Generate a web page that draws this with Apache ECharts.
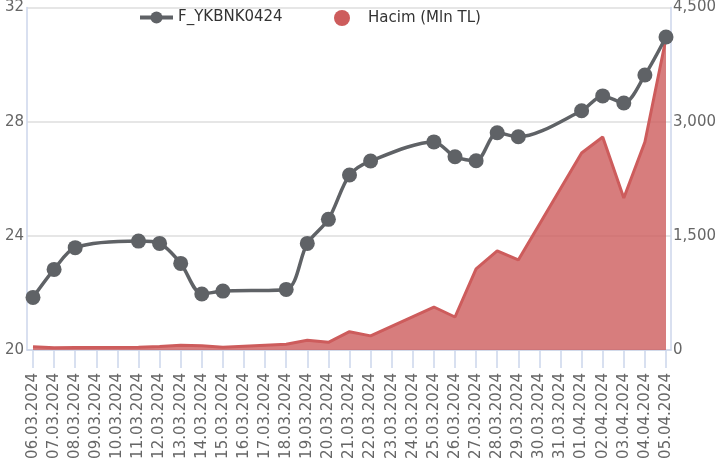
<!DOCTYPE html>
<html>
<head>
<meta charset="utf-8">
<script src="https://cdn.jsdelivr.net/npm/echarts@6/dist/echarts.min.js"></script>
<style>
html,body{margin:0;padding:0;background:#fff;}
#c{width:719px;height:472px;}
</style>
</head>
<body>
<div id="c"></div>
<script>
const dates = ['06.03.2024','07.03.2024','08.03.2024','09.03.2024','10.03.2024','11.03.2024','12.03.2024','13.03.2024','14.03.2024','15.03.2024','16.03.2024','17.03.2024','18.03.2024','19.03.2024','20.03.2024','21.03.2024','22.03.2024','23.03.2024','24.03.2024','25.03.2024','26.03.2024','27.03.2024','28.03.2024','29.03.2024','30.03.2024','31.03.2024','01.04.2024','02.04.2024','03.04.2024','04.04.2024','05.04.2024'];
const priceName = 'F_YKBNK0424';
const volumeName = 'Hacim (Mln TL)';
const price = [21.84,22.82,23.58,null,null,23.81,23.73,23.03,21.96,22.06,null,null,22.12,23.73,24.57,26.12,26.61,null,null,27.28,26.76,26.62,27.60,27.46,null,null,28.37,28.89,28.64,29.62,30.95];
const volume = [43,30,32,null,null,35,45,62,57,35,null,null,75,127,101,240,185,null,null,564,433,1063,1300,1181,null,null,2585,2795,1994,2729,4090];
const leftTicks = {min:20, max:32, interval:4};
const rightTicks = {min:0, max:4500, interval:1500};

const axisColor = '#ccd6eb';
const gridColor = '#e6e6e6';
const labelColor = '#666666';
const font = 'DejaVu Sans';

const chart = echarts.init(document.getElementById('c'), null, {renderer:'canvas'});
chart.setOption({
  animation: false,
  textStyle: {fontFamily: font},
  legend: [
    {data:[priceName], left:133, top:5, itemWidth:33, itemHeight:15, itemGap:0,
     lineStyle:{width:4},
     textStyle:{fontSize:15, color:'#333', fontFamily:font, padding:[0,0,0,0]}},
    {data:[{name:volumeName, icon:'circle'}], left:329, top:5, itemWidth:16, itemHeight:16,
     textStyle:{fontSize:15, color:'#333', fontFamily:font, padding:[0,0,0,13]}}
  ],
  grid: [
    {left:27, right:46, top:7, bottom:122},
    {left:33, right:53, top:7, bottom:122}
  ],
  xAxis: [
    {gridIndex:0, type:'category', data:dates, boundaryGap:false,
     axisLine:{show:true, lineStyle:{color:axisColor, width:1.5}},
     axisTick:{show:false}, axisLabel:{show:false}, splitLine:{show:false}},
    {gridIndex:1, type:'category', data:dates, boundaryGap:false,
     axisLine:{show:false},
     axisTick:{show:true, length:18, interval:0, lineStyle:{color:axisColor, width:1.5}},
     axisLabel:{rotate:90, margin:23, interval:0, fontSize:15, color:labelColor, fontFamily:font},
     splitLine:{show:false}}
  ],
  yAxis: [
    {gridIndex:0, type:'value', position:'left', min:leftTicks.min, max:leftTicks.max, interval:leftTicks.interval,
     axisLine:{show:true, lineStyle:{color:axisColor, width:1.5}}, axisTick:{show:false},
     axisLabel:{fontSize:15, color:labelColor, margin:3, fontFamily:font},
     splitLine:{show:true, lineStyle:{color:gridColor, width:2}}},
    {gridIndex:0, type:'value', position:'right', min:rightTicks.min, max:rightTicks.max, interval:rightTicks.interval,
     axisLine:{show:true, lineStyle:{color:axisColor, width:1.5}}, axisTick:{show:false},
     axisLabel:{fontSize:15, color:labelColor, margin:2, fontFamily:font,
       formatter: v => v.toLocaleString('en-US')},
     splitLine:{show:false}},
    {gridIndex:1, type:'value', min:leftTicks.min, max:leftTicks.max, interval:leftTicks.interval, show:false, splitLine:{show:false}},
    {gridIndex:1, type:'value', min:rightTicks.min, max:rightTicks.max, interval:rightTicks.interval, show:false, splitLine:{show:false}}
  ],
  series: [
    {name:priceName, type:'line', xAxisIndex:1, yAxisIndex:2, data:price, connectNulls:true, smooth:0.3,
     symbol:'circle', symbolSize:15, showAllSymbol:true, z:4,
     itemStyle:{color:'#5f6266'}, lineStyle:{color:'#5f6266', width:3.5}},
    {name:volumeName, type:'line', xAxisIndex:1, yAxisIndex:3, data:volume, connectNulls:true,
     symbol:'none', z:3,
     itemStyle:{color:'#cd5c5c'}, lineStyle:{color:'#cd5c5c', width:3},
     areaStyle:{color:'#cd5c5c', opacity:0.8}}
  ]
});
</script>
</body>
</html>
